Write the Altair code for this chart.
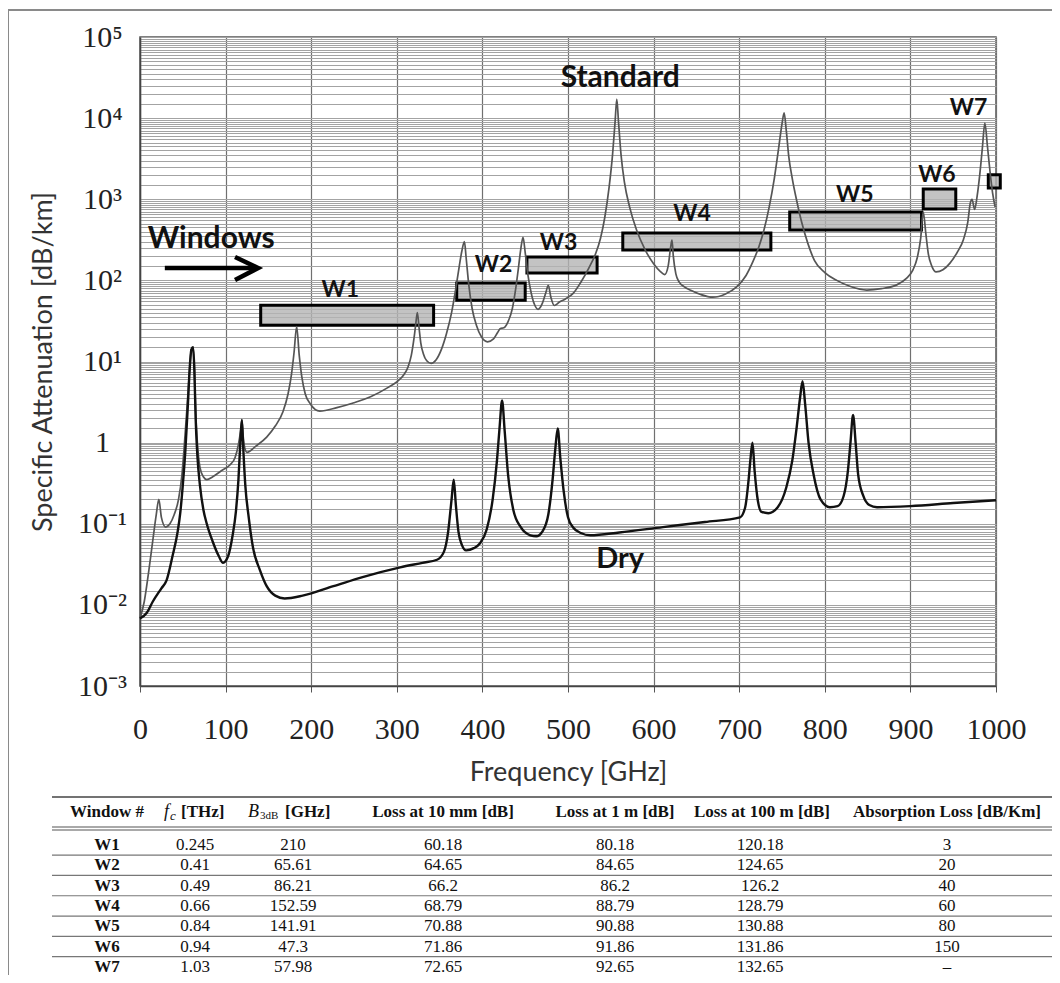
import altair as alt
import pandas as pd

# ---------------- data ----------------
std_f = [0, 5, 10, 15, 19, 22, 25, 30, 35, 40, 45, 49, 52, 55, 58, 60, 62, 63.5, 65, 67, 70, 74, 78, 85, 95,
         105, 111, 115, 117.5, 119, 120.5, 122.5, 125, 135, 148, 158, 167, 173, 177, 180, 183, 186, 189, 193,
         199, 210, 230, 250, 270, 290, 300, 308, 313, 317, 320, 322, 324, 326, 328, 331, 335, 340, 346, 352,
         358, 364, 369, 373, 376, 379, 381, 384, 388, 393, 399, 406, 413, 418, 421, 425, 430, 435, 439, 442,
         445, 447.5, 450, 453, 457, 461, 465, 470, 474, 477, 480, 484, 490, 497, 506, 515, 524, 532, 538, 543,
         548, 552, 555, 557, 559, 562, 566, 572, 580, 590, 600, 608, 613, 617, 620, 621.5, 623, 626, 630, 636,
         644, 655, 669, 684, 697, 708, 716, 723, 729, 735, 741, 746, 750, 752.5, 755, 758, 762, 767, 773, 780,
         788, 800, 814, 830, 849, 866, 884, 895, 903, 908, 912, 915, 918, 921, 925, 930, 938, 946, 955, 962,
         967, 970, 972, 975, 978, 981, 984, 987, 990, 993, 996, 999]
std_a = [0.0068, 0.011, 0.025, 0.063, 0.13, 0.2, 0.12, 0.091, 0.1, 0.13, 0.2, 0.4, 1.0, 2.8, 8, 14, 15, 8, 2.5,
         1.0, 0.5, 0.38, 0.35, 0.38, 0.45, 0.53, 0.65, 0.95, 1.4, 1.9, 1.2, 0.85, 0.76, 0.9, 1.17, 1.6, 2.4, 4,
         7, 13, 27, 12, 6.5, 4, 3, 2.45, 2.7, 3.1, 3.7, 4.8, 5.6, 6.8, 8.5, 12, 19, 28, 40, 26, 17, 12.5, 10.2,
         9.5, 10.5, 14, 22, 40, 80, 150, 230, 300, 190, 90, 45, 28, 20, 17.5, 19, 23, 25.5, 26, 31, 45, 80,
         140, 250, 340, 220, 120, 70, 50, 44, 52, 70, 87, 62, 49, 54, 59, 69, 95, 140, 210, 330, 600, 1400,
         3500, 9000, 17200, 9000, 3500, 1600, 800, 420, 240, 160, 128, 118, 150, 260, 314, 200, 120, 95, 83,
         75, 67, 62, 68, 83, 115, 170, 260, 420, 800, 1800, 4200, 8500, 11600, 7000, 3300, 1800, 980, 520, 290,
         175, 125, 100, 84, 76, 79, 88, 105, 135, 190, 330, 700, 380, 210, 150, 127, 135, 162, 225, 320, 520,
         900, 1000, 750, 1100, 2000, 4200, 8700, 4500, 2200, 1200, 800]

dry_f = [0, 8, 15, 25, 31, 38, 44, 47, 50, 53, 56, 58, 60, 62, 63.5, 65, 67, 70, 74, 78, 85, 92, 97, 103, 108,
         112, 115, 117, 119, 120.5, 123, 127, 132, 140, 148, 158, 169, 190, 226, 260, 304, 330, 347, 355, 360,
         364, 366.5, 369, 372, 376, 381, 390, 397, 405, 412, 417, 420, 423, 426, 430, 436, 445, 456, 463, 470,
         477, 482, 485, 488, 491, 495, 500, 506, 515, 526, 560, 611, 660, 701, 707, 711, 713, 715.5, 718, 721,
         726, 734, 745, 755, 762, 767, 771, 774, 777, 781, 787, 795, 806, 815, 822, 827, 830, 833, 836, 839,
         845, 852, 861, 900, 950, 1000]
dry_a = [0.0068, 0.008, 0.011, 0.016, 0.02, 0.04, 0.08, 0.135, 0.3, 0.8, 3, 8, 14, 15, 8, 2.0, 0.7, 0.3,
         0.15, 0.1, 0.06, 0.04, 0.033, 0.04, 0.07, 0.14, 0.35, 0.9, 1.9, 0.9, 0.3, 0.12, 0.051, 0.027, 0.017,
         0.013, 0.012, 0.013, 0.017, 0.022, 0.029, 0.033, 0.036, 0.045, 0.08, 0.2, 0.35, 0.17, 0.08, 0.055,
         0.047, 0.05, 0.057, 0.085, 0.2, 0.6, 1.5, 3.3, 1.4, 0.4, 0.15, 0.09, 0.072, 0.07, 0.08, 0.13, 0.35,
         0.8, 1.5, 0.65, 0.25, 0.12, 0.09, 0.077, 0.072, 0.078, 0.091, 0.105, 0.12, 0.16, 0.35, 0.6, 1.0, 0.45,
         0.22, 0.14, 0.135, 0.16, 0.28, 0.6, 1.5, 3.5, 5.7, 3.0, 1.0, 0.4, 0.2, 0.16, 0.165, 0.22, 0.45, 1.0,
         2.2, 1.0, 0.4, 0.22, 0.17, 0.16, 0.165, 0.18, 0.195]

win_names = ["W1", "W2", "W3", "W4", "W5", "W6", "W7"]
win_f1 = [141, 370, 452, 564, 759, 915, 991]
win_f2 = [343, 450, 534, 737, 913, 953, 1005]
win_a1 = [28, 57, 123, 237, 417, 760, 1380]
win_a2 = [49.5, 93, 194, 383, 695, 1336, 2000]

# window labels (anchored in data units)
wl_f = [234, 413, 489, 645, 835, 931, 968]
wl_a = [62, 126, 237, 538, 922, 1630, 10900]

# table values
tbl_fc = ["0.245", "0.41", "0.49", "0.66", "0.84", "0.94", "1.03"]
tbl_b3db = ["210", "65.61", "86.21", "152.59", "141.91", "47.3", "57.98"]
tbl_l10mm = ["60.18", "64.65", "66.2", "68.79", "70.88", "71.86", "72.65"]
tbl_l1m = ["80.18", "84.65", "86.2", "88.79", "90.88", "91.86", "92.65"]
tbl_l100m = ["120.18", "124.65", "126.2", "128.79", "130.88", "131.86", "132.65"]
tbl_abs = ["3", "20", "40", "60", "80", "150", "\u2013"]

# ---------------- layout / style ----------------
PL, PT = 140, 37          # plot origin on the page
W, H = 856, 649
SANS = "Lato"
SERIF = "Liberation Serif"

minor = [1 + 0.5 * k for k in range(18)]
yvals = [m * 10.0 ** d for d in range(-3, 5) for m in minor] + [1e5]

label_expr = ("abs(log(datum.value)/LN10 - round(log(datum.value)/LN10)) < 0.001 ? "
              "['10\u207b\u00b3','10\u207b\u00b2','10\u207b\u00b9','1','10\u00b9','10\u00b2','10\u00b3','10\u2074','10\u2075']"
              "[round(log(datum.value)/LN10)+3] : ''")

x_axis = alt.Axis(values=list(range(0, 1001, 100)), format="d", grid=True, gridColor="#707070", gridWidth=1.2,
                  tickSize=6, tickColor="#555", domainColor="#444", domainWidth=1.5,
                  labelFont=SERIF, labelFontSize=30, labelColor="#222", labelPadding=22,
                  labelOverlap=False, labelFlush=False,
                  title="Frequency [GHz]", titleFont=SANS, titleFontSize=27, titleFontWeight="normal",
                  titleColor="#333", titlePadding=15)
y_axis = alt.Axis(values=yvals, labelExpr=label_expr, grid=True, gridColor="#a3a3a3", gridWidth=1,
                  tickSize=0, domainColor="#444", domainWidth=1.5,
                  labelFont=SERIF, labelFontSize=30, labelColor="#222", labelAlign="center",
                  labelPadding=38, labelOverlap=False, labelBound=False,
                  title="Specific Attenuation [dB/km]", titleFont=SANS, titleFontSize=27,
                  titleFontWeight="normal", titleColor="#333", titlePadding=20)

xs = alt.Scale(domain=[0, 1000], nice=False, zero=False)
ys = alt.Scale(type="log", domain=[1e-3, 1e5], nice=False)
X = alt.X("f:Q", scale=xs, axis=x_axis)
Y = alt.Y("a:Q", scale=ys, axis=y_axis)

one = pd.DataFrame({"k": [0]})

std_df = pd.DataFrame({"f": std_f, "a": std_a})
dry_df = pd.DataFrame({"f": dry_f, "a": dry_a})
win_df = pd.DataFrame({"w": win_names, "f": win_f1, "f2": win_f2, "a": win_a1, "a2": win_a2})
wl_df = pd.DataFrame({"w": win_names, "f": wl_f, "a": wl_a})

boxes = alt.Chart(win_df).mark_rect(fill="#b4b4b4", fillOpacity=0.8, stroke="#000", strokeWidth=3).encode(
    x=X, x2="f2:Q", y=Y, y2="a2:Q")
std_line = alt.Chart(std_df).mark_line(color="#555555", strokeWidth=1.7, interpolate="monotone").encode(x=X, y=Y)
dry_line = alt.Chart(dry_df).mark_line(color="#111111", strokeWidth=2.4, interpolate="monotone").encode(x=X, y=Y)

wlabels = alt.Chart(wl_df).mark_text(font=SANS, fontSize=23, fontWeight="bold", color="#111",
                                     baseline="alphabetic").encode(x=X, y=Y, text="w:N")


def ann(text, f, a, size, align="center"):
    d = pd.DataFrame({"f": [f], "a": [a], "t": [text]})
    return alt.Chart(d).mark_text(font=SANS, fontSize=size, fontWeight="bold", color="#111",
                                  align=align, baseline="alphabetic").encode(x=X, y=Y, text="t:N")


standard_t = ann("Standard", 561, 24200, 30)
dry_t = ann("Dry", 561, 0.0284, 29)
windows_t = ann("Windows", 9, 250, 30, align="left")

shaft_df = pd.DataFrame({"f": [29, 134], "a": [142, 142]})
head_df = pd.DataFrame({"f": [111, 138, 111], "a": [194, 142, 101], "o": [0, 1, 2]})
shaft = alt.Chart(shaft_df).mark_line(color="#000", strokeWidth=4.5).encode(x=X, y=Y)
head = alt.Chart(head_df).mark_line(color="#000", strokeWidth=4.5, strokeJoin="miter").encode(
    x=X, y=Y, order="o:Q")


# ---------------- frame and table ----------------
def prule(x1, x2, y, color="#777", width=1.2):
    return alt.Chart(one).mark_rule(color=color, strokeWidth=width).encode(
        x=alt.value(x1 - PL), x2=alt.value(x2 - PL), y=alt.value(y - PT))


frame_top = prule(8, 1060, 10, color="#8a8a8a", width=2)
frame_left = alt.Chart(one).mark_rule(color="#8a8a8a", strokeWidth=2).encode(
    x=alt.value(8 - PL), y=alt.value(10 - PT), y2=alt.value(983 - PT))

TX1, TX2 = 52, 1054
ROW0, ROWSTEP = 845, 20.3
table_rules = [prule(TX1, TX2, 797, color="#444", width=1.6),
               prule(TX1, TX2, 827, color="#555", width=1.2),
               prule(TX1, TX2, 830, color="#555", width=1.2)]
for i in range(6):
    table_rules.append(prule(TX1, TX2, ROW0 + ROWSTEP * (i + 0.5), color="#777", width=1.2))


def ptext(text, x, y, size=17, weight="bold", style="normal", align="center"):
    return alt.Chart(one).mark_text(text=text, font=SERIF, fontSize=size, fontWeight=weight,
                                    fontStyle=style, align=align, baseline="middle", color="#111").encode(
        x=alt.value(x - PL), y=alt.value(y - PT))


HY = 812
headers = [
    ptext("Window #", 107, HY),
    ptext("f", 164, HY, size=18, weight="normal", style="italic", align="left"),
    ptext("c", 170, HY + 4, size=13, weight="normal", style="italic", align="left"),
    ptext("[THz]", 181, HY, align="left"),
    ptext("B", 248, HY, size=18, weight="normal", style="italic", align="left"),
    ptext("3dB", 260, HY + 4, size=11, weight="normal", align="left"),
    ptext("[GHz]", 285, HY, align="left"),
    ptext("Loss at 10 mm [dB]", 443, HY),
    ptext("Loss at 1 m [dB]", 615, HY),
    ptext("Loss at 100 m [dB]", 762, HY),
    ptext("Absorption Loss [dB/Km]", 947, HY),
]

tbl_df = pd.DataFrame({"w": win_names, "fc": tbl_fc, "b": tbl_b3db, "l10": tbl_l10mm,
                       "l1": tbl_l1m, "l100": tbl_l100m, "ab": tbl_abs})
row_scale = alt.Scale(type="point", domain=win_names,
                      range=[ROW0 - PT, ROW0 + 6 * ROWSTEP - PT], padding=0)
col_fields = ["w", "fc", "b", "l10", "l1", "l100", "ab"]
col_x = [107, 195, 293, 443, 615, 760, 947]
cells = []
for fld, cx in zip(col_fields, col_x):
    cells.append(alt.Chart(tbl_df).mark_text(font=SERIF, fontSize=17,
                                             fontWeight="bold" if fld == "w" else "normal",
                                             baseline="middle", color="#111").encode(
        x=alt.value(cx - PL), y=alt.value(0),
        yOffset=alt.YOffset("w:N", scale=row_scale, sort=win_names),
        text=f"{fld}:N"))

chart = alt.layer(
    boxes, std_line, dry_line, wlabels, standard_t, dry_t, windows_t, shaft, head,
    frame_top, frame_left, *table_rules, *headers, *cells
).properties(
    width=W, height=H,
    autosize=alt.AutoSizeParams(type="none"),
    padding={"left": PL - 8, "top": PT - 8, "right": 1060 - 8 - PL - W, "bottom": 983 - 8 - PT - H},
    background="white",
).configure_view(stroke="#555", strokeWidth=1.5)

chart.save("out.html", embed_options={"renderer": "svg", "actions": False})
